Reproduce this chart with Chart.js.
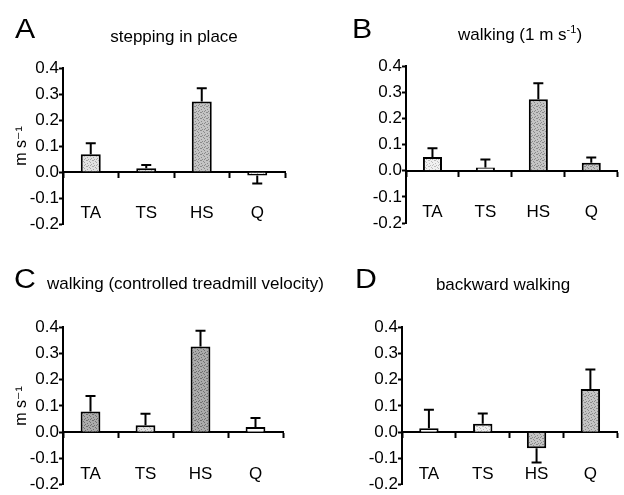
<!DOCTYPE html>
<html>
<head>
<meta charset="utf-8">
<script src="https://cdn.jsdelivr.net/npm/chart.js@4"></script>
<style>
html,body{margin:0;padding:0;background:#fff;width:624px;height:495px;overflow:hidden;}
#wrap{position:relative;width:624px;height:495px;font-family:"Liberation Sans",Arial,sans-serif;color:#000;}
canvas{position:absolute;}
.t{position:absolute;white-space:nowrap;line-height:1;font-size:17px;}
.c{text-align:center;width:200px;}
.L{font-size:27px;transform:scaleX(1.12);transform-origin:left top;}
sup{font-size:11px;vertical-align:baseline;position:relative;top:-7px;}
</style>
</head>
<body>
<div id="wrap">
<canvas id="cA" width="312" height="248" style="left:0;top:0;width:312px;height:248px"></canvas>
<canvas id="cB" width="312" height="248" style="left:312px;top:0;width:312px;height:248px"></canvas>
<canvas id="cC" width="312" height="247" style="left:0;top:248px;width:312px;height:247px"></canvas>
<canvas id="cD" width="312" height="247" style="left:312px;top:248px;width:312px;height:247px"></canvas>

<div class="t L" style="left:15px;top:16px">A</div>
<div class="t c" style="left:74px;top:28px">stepping in place</div>
<div class="t L" style="left:352px;top:16px">B</div>
<div class="t c" style="left:420px;top:26px">walking (1 m s<sup>-1</sup>)</div>
<div class="t L" style="left:14px;top:266px">C</div>
<div class="t" style="left:47px;top:275px">walking (controlled treadmill velocity)</div>
<div class="t L" style="left:355px;top:266px">D</div>
<div class="t c" style="left:403px;top:276px">backward walking</div>
</div>
<script>
// ---- data ----
const categories = ['TA', 'TS', 'HS', 'Q'];
const tickValues = [-0.2, -0.1, 0, 0.1, 0.2, 0.3, 0.4];
const tickLabels = ['-0.2', '-0.1', '0.0', '0.1', '0.2', '0.3', '0.4'];
const yTitle = 'm s\u207B\u00B9';

const steppingInPlace = [0.068, 0.014, 0.271, -0.013];
const steppingErr     = [0.043, 0.013, 0.051, 0.031];

const walking1ms      = [0.052, 0.012, 0.273, 0.030];
const walking1msErr   = [0.034, 0.031, 0.061, 0.020];

const walkingTread    = [0.079, 0.026, 0.326, 0.020];
const walkingTreadErr = [0.059, 0.044, 0.060, 0.034];

const backwardWalk    = [0.015, 0.032, -0.061, 0.164];
const backwardWalkErr = [0.070, 0.039, 0.054, 0.074];

// ---- styling helpers ----
function stipple(base, dark) {
  const c = document.createElement('canvas');
  c.width = 6; c.height = 6;
  const g = c.getContext('2d');
  g.fillStyle = base; g.fillRect(0, 0, 6, 6);
  g.fillStyle = dark;
  [[0,0],[3,1],[1,2],[4,3],[2,4],[5,5],[0,3],[3,4]].forEach(p => g.fillRect(p[0], p[1], 1, 1));
  return g.createPattern(c, 'repeat');
}
const white  = '#ffffff';
const light  = stipple('#e2e2e2', '#a8a8a8');
const vlight = stipple('#f0f0f0', '#bdbdbd');
const mid    = stipple('#c4c4c4', '#8a8a8a');
const dark   = stipple('#ababab', '#707070');

Chart.defaults.font.family = "'Liberation Sans', Arial, 'DejaVu Sans', sans-serif";
Chart.defaults.font.size = 17;
Chart.defaults.color = '#000';

const errorBars = {
  id: 'errorBars',
  afterDatasetsDraw(chart) {
    const ctx = chart.ctx;
    const ds = chart.data.datasets[0];
    const meta = chart.getDatasetMeta(0);
    const ys = chart.scales.y;
    ctx.save();
    ctx.strokeStyle = '#000';
    ctx.lineWidth = 2;
    meta.data.forEach((bar, i) => {
      const v = ds.data[i], e = ds.errors[i];
      const tip = v >= 0 ? v + e : v - e;
      const yt = ys.getPixelForValue(tip);
      ctx.beginPath();
      ctx.moveTo(bar.x, bar.y);
      ctx.lineTo(bar.x, yt);
      ctx.moveTo(bar.x - 5, yt);
      ctx.lineTo(bar.x + 5, yt);
      ctx.stroke();
    });
    ctx.restore();
  }
};

function makeChart(id, values, errors, colors, geo) {
  new Chart(document.getElementById(id), {
    type: 'bar',
    data: {
      labels: categories,
      datasets: [{
        data: values,
        errors: errors,
        backgroundColor: colors,
        borderColor: '#000',
        borderWidth: 2,
        borderSkipped: 'start',
        categoryPercentage: 1,
        barPercentage: 0.36
      }]
    },
    options: {
      responsive: false,
      animation: false,
      events: [],
      layout: { padding: { left: 0, top: geo.top, right: geo.right, bottom: geo.bottom } },
      plugins: { legend: { display: false }, tooltip: { enabled: false }, title: { display: false } },
      scales: {
        x: {
          position: { y: 0 },
          z: 1,
          grid: { display: true, drawOnChartArea: false, drawTicks: true, tickLength: 5, tickWidth: 2, color: '#000', offset: true },
          border: { display: true, color: '#000', width: 2 },
          ticks: { padding: geo.labPad, maxRotation: 0, autoSkip: false, font: { size: 17 }, color: '#000' },
          afterFit: s => { s.height = 0; }
        },
        y: {
          min: -0.2,
          max: 0.4,
          afterBuildTicks: s => { s.ticks = tickValues.map(v => ({ value: v })); },
          grid: { display: true, drawOnChartArea: false, drawTicks: true, tickLength: 4, tickWidth: 2, color: '#000' },
          border: { display: true, color: '#000', width: 2 },
          ticks: { padding: 0, font: { size: 17 }, color: '#000', callback: (v, i) => tickLabels[i] },
          title: { display: geo.title, text: yTitle, font: { size: 16 }, color: '#000', padding: { top: 12, bottom: 0 } },
          afterFit: s => { s.width = geo.axisW; }
        }
      }
    },
    plugins: [errorBars]
  });
}

makeChart('cA', steppingInPlace, steppingErr, [light, light, mid, vlight],
  { axisW: 63, top: 68, right: 27, bottom: 24, labPad: 26, title: true });
makeChart('cB', walking1ms, walking1msErr, [vlight, white, mid, mid],
  { axisW: 94, top: 66, right: 1, bottom: 25, labPad: 26, title: false });
makeChart('cC', walkingTread, walkingTreadErr, [dark, light, dark, white],
  { axisW: 63, top: 79, right: 29, bottom: 8, labPad: 27, title: true });
makeChart('cD', backwardWalk, backwardWalkErr, [white, vlight, mid, mid],
  { axisW: 90, top: 79, right: 0, bottom: 8, labPad: 27, title: false });
</script>
</body>
</html>
